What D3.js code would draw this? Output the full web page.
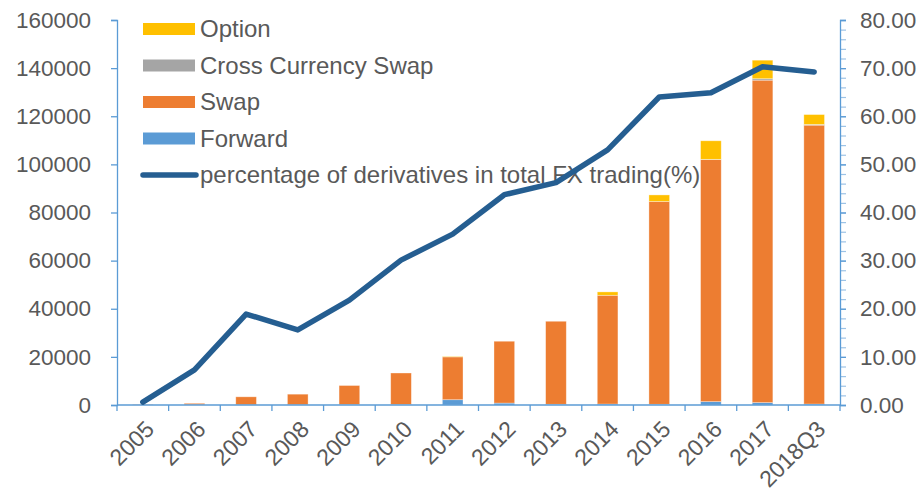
<!DOCTYPE html>
<html>
<head>
<meta charset="utf-8">
<script src="https://cdn.jsdelivr.net/npm/d3@7"></script>
<style>
  body { margin: 0; background: #fff; }
  text { font-family: "Liberation Sans", Arial, sans-serif; fill: #595959; }
</style>
</head>
<body>
<svg id="chart" width="923" height="493"></svg>
<script>
// data
const years = ["2005", "2006", "2007", "2008", "2009", "2010", "2011", "2012", "2013", "2014", "2015", "2016", "2017", "2018Q3"];
const forward = [0, 100, 100, 100, 150, 200, 2200, 800, 300, 400, 300, 1400, 1000, 400];
const swap = [150, 600, 3300, 4400, 7950, 13100, 17800, 25700, 34500, 45200, 84300, 100600, 134000, 115900];
const crossSwap = [0, 0, 0, 0, 0, 0, 0, 0, 0, 0, 0, 100, 600, 300];
const option = [0, 0, 0, 0, 0, 0, 200, 0, 0, 1400, 2700, 7700, 7700, 4100];
const pctDerivatives = [0.6, 7.3, 18.9, 15.6, 21.8, 30.1, 35.5, 43.7, 46.2, 53.0, 64.0, 64.9, 70.3, 69.2];

const leftTicks = [0, 20000, 40000, 60000, 80000, 100000, 120000, 140000, 160000];
const rightTicks = [0, 10, 20, 30, 40, 50, 60, 70, 80];

const keys = ["forward", "swap", "crossSwap", "option"];
const colors = {forward: "#5b9bd5", swap: "#ed7d31", crossSwap: "#a5a5a5", option: "#ffc000"};
const lineColor = "#255e91";
const axisColor = "#5b9bd5";

const rows = years.map((y, i) => ({
    year: y,
    forward: forward[i],
    swap: swap[i],
    crossSwap: crossSwap[i],
    option: option[i],
    pct: pctDerivatives[i]
}));

const svg = d3.select("#chart");
const plotLeft = 117, plotRight = 840, plotTop = 20, plotBottom = 405;

const x = d3.scaleBand().domain(years).range([plotLeft, plotRight]).paddingInner(0.6).paddingOuter(0.3);
const xBand = d3.scaleBand().domain(years).range([plotLeft, plotRight]);
const yL = d3.scaleLinear().domain([0, 160000]).range([plotBottom, plotTop]);
const yR = d3.scaleLinear().domain([0, 80]).range([plotBottom, plotTop]);

// bars
const stacked = d3.stack().keys(keys)(rows);
svg.append("g")
    .selectAll("g")
    .data(stacked)
    .enter()
    .append("g")
    .attr("fill", d => colors[d.key])
    .selectAll("rect")
    .data(d => d)
    .enter()
    .append("rect")
    .attr("x", d => x(d.data.year))
    .attr("width", x.bandwidth())
    .attr("y", d => yL(d[1]))
    .attr("height", d => Math.max(0, yL(d[0]) - yL(d[1])))
    .attr("stroke", "#ffffff")
    .attr("stroke-opacity", 0.45)
    .attr("stroke-width", 0.75);

// left axis
const leftAxis = svg.append("g")
    .attr("transform", `translate(${plotLeft},0)`)
    .call(d3.axisLeft(yL).tickValues(leftTicks).tickFormat(d3.format("d")).tickSize(6).tickPadding(20));
leftAxis.select(".domain").attr("stroke", axisColor).attr("stroke-width", 1.3);
leftAxis.selectAll(".tick line").attr("stroke", axisColor).attr("stroke-width", 1.3);
leftAxis.selectAll(".tick text").attr("font-size", "22.5px").attr("fill", "#595959")
    .style("font-family", "Liberation Sans, Arial, sans-serif");

// right axis, with minor ticks every 2
const rightMinor = svg.append("g")
    .attr("transform", `translate(${plotRight},0)`)
    .call(d3.axisRight(yR).tickValues(d3.range(0, 81, 2)).tickFormat("").tickSize(6));
rightMinor.select(".domain").remove();
rightMinor.selectAll(".tick line").attr("stroke", "#9dc3e6").attr("stroke-width", 1.2);

const rightAxis = svg.append("g")
    .attr("transform", `translate(${plotRight},0)`)
    .call(d3.axisRight(yR).tickValues(rightTicks).tickFormat(d3.format(".2f")).tickSize(6).tickPadding(14));
rightAxis.select(".domain").attr("stroke", axisColor).attr("stroke-width", 1.3);
rightAxis.selectAll(".tick line").attr("stroke", axisColor).attr("stroke-width", 1.3);
rightAxis.selectAll(".tick text").attr("font-size", "22.5px").attr("fill", "#595959")
    .style("font-family", "Liberation Sans, Arial, sans-serif");

// x axis: ticks at category boundaries
const xAxisG = svg.append("g").attr("transform", `translate(0,${plotBottom})`);
xAxisG.append("line")
    .attr("x1", plotLeft).attr("x2", plotRight)
    .attr("stroke", axisColor).attr("stroke-width", 1.5);
xAxisG.selectAll("line.tk")
    .data(years.concat(["end"]))
    .enter()
    .append("line")
    .attr("class", "tk")
    .attr("x1", (d, i) => plotLeft + i * xBand.step())
    .attr("x2", (d, i) => plotLeft + i * xBand.step())
    .attr("y1", 0).attr("y2", 6)
    .attr("stroke", axisColor).attr("stroke-width", 1.3);
xAxisG.selectAll("text")
    .data(years)
    .enter()
    .append("text")
    .attr("transform", d => `translate(${xBand(d) + xBand.bandwidth() / 2 + 7},${20}) rotate(-45)`)
    .attr("text-anchor", "end")
    .attr("dy", "0.35em")
    .attr("font-size", "23px")
    .text(d => d);

// legend
const legendItems = [
    {label: "Option", key: "option"},
    {label: "Cross Currency Swap", key: "crossSwap"},
    {label: "Swap", key: "swap"},
    {label: "Forward", key: "forward"},
    {label: "percentage of derivatives in total FX trading(%)", key: "line"}
];
const legend = svg.append("g");
const legendRows = legend.selectAll("g")
    .data(legendItems)
    .enter()
    .append("g")
    .attr("transform", (d, i) => `translate(143,${29 + i * 36.5})`);
legendRows.filter(d => d.key !== "line")
    .append("rect")
    .attr("x", 0).attr("y", -6)
    .attr("width", 52).attr("height", 12)
    .attr("fill", d => colors[d.key]);
legendRows.filter(d => d.key === "line")
    .append("line")
    .attr("x1", 0).attr("x2", 53)
    .attr("stroke", lineColor).attr("stroke-width", 5.5)
    .attr("stroke-linecap", "round");
legendRows.append("text")
    .attr("x", 57)
    .attr("dy", "0.35em")
    .attr("font-size", "24px")
    .text(d => d.label);

// percentage line
const line = d3.line()
    .x(d => xBand(d.year) + xBand.bandwidth() / 2)
    .y(d => yR(d.pct));
svg.append("path")
    .datum(rows)
    .attr("fill", "none")
    .attr("stroke", lineColor)
    .attr("stroke-width", 5.5)
    .attr("stroke-linejoin", "round")
    .attr("stroke-linecap", "round")
    .attr("d", line);
</script>
</body>
</html>
